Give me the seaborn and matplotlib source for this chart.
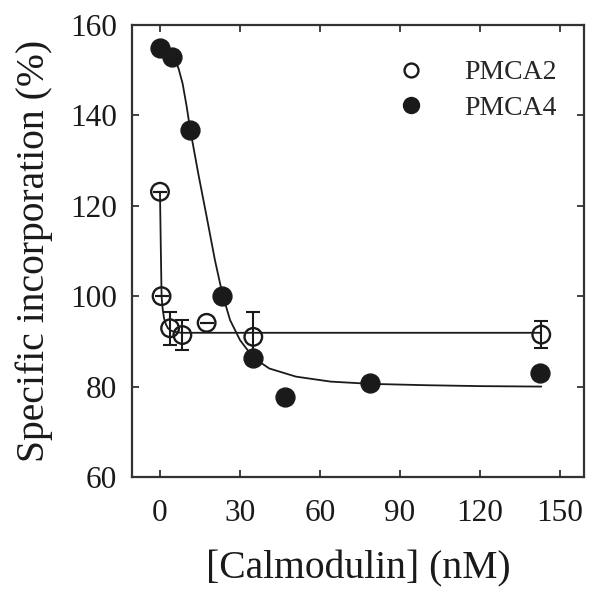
import numpy as np
import pandas as pd
import matplotlib
matplotlib.use("Agg")
import matplotlib.pyplot as plt
import seaborn as sns
from matplotlib.lines import Line2D

# dados
cam_pmca2 = [0, 0.6, 3.8, 8.4, 17.5, 35, 143]
inc_pmca2 = [123.1, 100, 92.9, 91.4, 94.1, 91.0, 91.5]
err_pmca2 = [0, 0, 3.7, 3.3, 0, 5.4, 3.0]

cam_pmca4 = [0, 4.4, 11.3, 23.4, 35, 46.9, 78.8, 142.5]
inc_pmca4 = [155, 153, 136.8, 100, 86.4, 77.8, 80.7, 83]

# curvas ajustadas (pontos lidos ao longo das linhas)
fit2_x = [0, 0.3, 0.6, 1.0, 1.5, 2.2, 3.0, 4.0, 5.5, 8.0, 143]
fit2_y = [123.1, 111, 100, 97.2, 95.2, 93.8, 92.9, 92.4, 92.1, 91.9, 91.9]

fit4_x = [0, 3.5, 5.5, 7.0, 8.5, 10.0, 11.3, 14.4, 17.5, 20.6, 23.4, 26.3, 30, 35, 41, 51, 64, 79, 100, 120, 143]
fit4_y = [155, 154, 152.5, 150.3, 147, 142, 137, 127, 117.6, 108, 100.5, 94.7, 90.3, 86.4, 84, 82.2, 81.1, 80.6, 80.3, 80.1, 80]

sns.set_theme(style="ticks")
plt.rcParams['font.family'] = ['Liberation Serif', 'DejaVu Serif']

cor = '#1a1a1a'
fig = plt.figure(figsize=(6.01, 5.94), dpi=100)
ax = fig.add_axes([0.2196, 0.197, 0.752, 0.761])

# linhas de ajuste
sns.lineplot(x=fit2_x, y=fit2_y, ax=ax, color=cor, linewidth=1.3, sort=False, estimator=None, zorder=2)
sns.lineplot(x=fit4_x, y=fit4_y, ax=ax, color=cor, linewidth=1.3, sort=False, estimator=None, zorder=2)

# barras de erro PMCA2
ax.errorbar(cam_pmca2, inc_pmca2, yerr=err_pmca2, fmt='none', ecolor=cor,
            elinewidth=1.5, capsize=5, capthick=1.5, zorder=3)

# pontos
sns.scatterplot(x=cam_pmca4, y=inc_pmca4, ax=ax, s=185, color=cor, edgecolor=cor,
                linewidth=1, zorder=4, legend=False)
sns.scatterplot(x=cam_pmca2, y=inc_pmca2, ax=ax, s=160, facecolor='none', edgecolor=cor,
                linewidth=1.7, zorder=5, legend=False)

ax.set_xlim(-10.5, 159)
ax.set_ylim(60, 160)
ax.set_xticks([0, 30, 60, 90, 120, 150])
ax.set_yticks([60, 80, 100, 120, 140, 160])

for s in ax.spines.values():
    s.set_visible(True)
    s.set_linewidth(1.6)
    s.set_color('#333333')

ax.tick_params(axis='both', direction='in', top=True, right=True, length=5, width=1.3,
               labelsize=22.5, colors='#333333', labelcolor=cor)
ax.tick_params(axis='x', pad=16)
ax.tick_params(axis='y', pad=11)

ax.set_xlabel("[Calmodulin] (nM)", fontsize=28.5, color=cor, labelpad=16)
ax.set_ylabel("Specific incorporation (%)", fontsize=28.5, color=cor, labelpad=12)

handles = [
    Line2D([], [], marker='o', linestyle='none', markersize=10, markerfacecolor='none',
           markeredgecolor=cor, markeredgewidth=1.7),
    Line2D([], [], marker='o', linestyle='none', markersize=11.5, markerfacecolor=cor,
           markeredgecolor=cor),
]
ax.legend(handles, ['PMCA2', 'PMCA4'], loc='upper right', frameon=False, fontsize=20,
          handletextpad=0.9, labelspacing=0.35, bbox_to_anchor=(0.995, 0.978))

plt.savefig("out.png", dpi=100)
plt.close()
